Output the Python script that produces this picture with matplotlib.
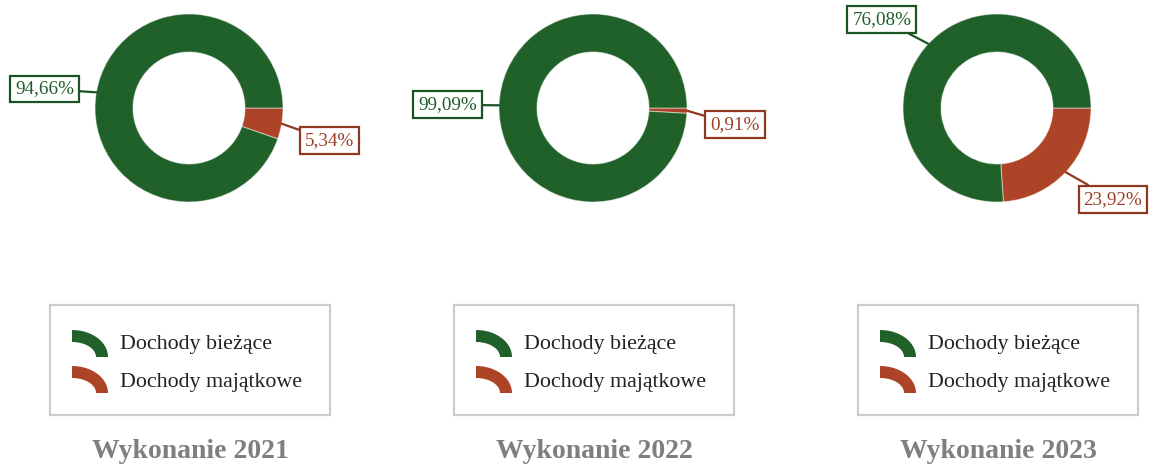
import numpy as np
import matplotlib
matplotlib.use("Agg")
import matplotlib.pyplot as plt
from matplotlib.patches import Rectangle, Polygon

plt.rcParams['font.family'] = ['Liberation Serif', 'DejaVu Serif']

# data
titles = ['Wykonanie 2021', 'Wykonanie 2022', 'Wykonanie 2023']
categories = ['Dochody bieżące', 'Dochody majątkowe']
biezace = [94.66, 99.09, 76.08]
majatkowe = [5.34, 0.91, 23.92]

# styles
slice_colors = ['#1f6129', '#ad4427']      # bieżące, majątkowe
text_colors = ['#1f5e28', '#9c3f25']
edge_colors = ['#1b5424', '#8e3820']
title_color = '#7f7f7f'

W, H = 1149, 470
centers_x = [189, 593, 997]
center_y = 108
R = 94
ring = 38
label_fs = 13.8
pad = 0.26
pad_px = pad * label_fs * 100 / 72

fig = plt.figure(figsize=(W / 100, H / 100), dpi=100)
ax = fig.add_axes([0, 0, 1, 1])

for i, title in enumerate(titles):
    cx = centers_x[i]
    # majątkowe first so it starts at 3 o'clock going clockwise (y axis is inverted)
    vals = [majatkowe[i], biezace[i]]
    cols = [slice_colors[1], slice_colors[0]]
    wedges, _ = ax.pie(vals, colors=cols, startangle=0, counterclock=True,
                       center=(cx, center_y), radius=R,
                       wedgeprops=dict(width=ring, edgecolor=(1, 1, 1, 0.45), linewidth=0.8))

    # labels with leader lines
    for w, v, k in zip(wedges, vals, [1, 0]):
        ang = np.deg2rad((w.theta1 + w.theta2) / 2)
        c, s = np.cos(ang), np.sin(ang)
        p0 = (cx + R * c, center_y + R * s)
        x1, y1 = cx + 1.21 * R * c, center_y + 1.21 * R * s
        if c >= 0:
            ha = 'left'
            va = 'bottom' if s < -0.5 else 'top'
            x1 += pad_px * 0.7
        else:
            ha = 'right'
            va = 'bottom' if s < -0.5 else ('top' if s > 0.5 else 'center')
            x1 -= pad_px / 2
        if va == 'top':
            y1 += pad_px
        elif va == 'bottom':
            y1 -= pad_px / 2
        label = f"{v:.2f}".replace('.', ',') + '%'
        ax.annotate(label, xy=p0, xytext=(x1, y1), ha=ha, va=va,
                    fontsize=label_fs, color=text_colors[k],
                    bbox=dict(boxstyle=f'square,pad={pad}', fc='white',
                              ec=edge_colors[k], lw=1.6),
                    arrowprops=dict(arrowstyle='-', color=edge_colors[k], lw=1.6,
                                    shrinkA=0, shrinkB=0))

    # legend box
    bx, by, bw, bh = cx - 139, 305, 280, 110
    ax.add_patch(Rectangle((bx, by), bw, bh, fill=False, ec='#cccccc', lw=1.6))
    for j, cat in enumerate(categories):
        mx, my = bx + 22, by + 52 + j * 36
        t = np.linspace(0, np.pi / 2, 40)
        outer = np.column_stack([mx + 36 * np.sin(t), my - 27 * np.cos(t)])
        inner = np.column_stack([mx + 24 * np.sin(t[::-1]), my - 15 * np.cos(t[::-1])])
        ax.add_patch(Polygon(np.vstack([outer, inner]), closed=True,
                             fc=slice_colors[j], ec='none'))
        ax.text(bx + 70, my - 12 + j, cat, fontsize=15.8, color='#222222',
                ha='left', va='center')

    ax.text(cx + 1, 452, title, fontsize=20, fontweight='bold', color=title_color,
            ha='center', va='center')

ax.set_xlim(0, W)
ax.set_ylim(H, 0)
ax.set_aspect('equal')
ax.axis('off')

fig.savefig('out.png', dpi=100)
